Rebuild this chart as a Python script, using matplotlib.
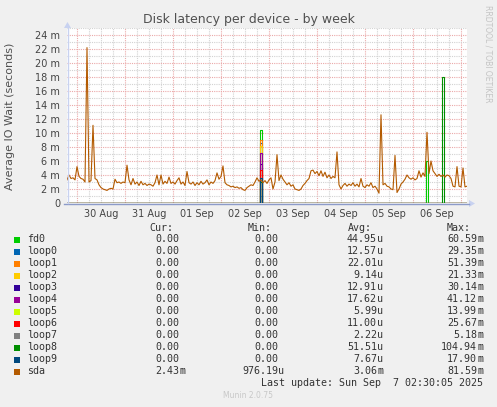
import matplotlib
matplotlib.use("Agg")
import matplotlib.pyplot as plt
from matplotlib.patches import Rectangle, Polygon
import numpy as np
import pandas as pd

W, H = 497, 407

# ---- data (hourly samples) ----
t_start = "2025-08-29 19:00"
t_end = "2025-09-07 03:00"

sda_aug29 = [3.3, 4.0, 3.5, 3.6, 3.3]
sda_aug30 = [5.2, 3.8, 3.5, 3.4, 3.0, 22.2, 3.0, 3.2, 11.1, 3.5, 3.3, 2.6,
             2.2, 2.0, 1.9, 1.8, 2.0, 2.1, 2.0, 3.4, 2.9, 3.0, 2.8, 3.0]
sda_aug31 = [2.9, 5.4, 3.3, 2.6, 3.5, 2.7, 3.0, 2.5, 3.1, 2.6, 2.8, 2.5,
             2.7, 2.6, 2.4, 2.9, 4.0, 2.6, 4.0, 2.7, 3.1, 2.8, 3.7, 2.8]
sda_sep01 = [3.0, 2.7, 3.2, 3.6, 2.7, 3.0, 2.5, 4.5, 2.9, 2.7, 3.0, 2.5,
             2.9, 2.6, 3.1, 2.7, 2.9, 3.3, 2.6, 3.0, 2.8, 3.2, 4.3, 3.4]
sda_sep02 = [3.8, 5.3, 2.9, 2.6, 2.5, 2.3, 2.4, 2.2, 2.3, 2.1, 2.2, 1.9,
             1.8, 2.2, 2.4, 2.6, 2.5, 3.0, 3.6, 3.1, 3.3, 2.9, 3.2, 2.8]
sda_sep03 = [3.3, 3.6, 2.0, 3.0, 6.9, 3.2, 4.0, 3.4, 3.0, 2.6, 2.9, 2.4,
             2.6, 2.0, 1.9, 1.8, 2.0, 2.5, 2.8, 3.2, 3.5, 4.6, 4.7, 4.2]
sda_sep04 = [4.5, 3.9, 4.6, 3.8, 4.4, 3.6, 4.0, 3.5, 3.8, 3.6, 7.3, 2.6,
             2.0, 2.5, 2.8, 2.4, 2.7, 2.5, 2.9, 2.4, 2.7, 2.3, 3.5, 2.4]
sda_sep05 = [2.2, 2.6, 2.4, 2.9, 2.2, 2.4, 2.0, 1.4, 12.6, 2.6, 2.8, 2.4,
             2.3, 2.0, 1.9, 6.8, 1.5, 2.0, 2.7, 3.0, 3.4, 4.0, 3.6, 3.4]
sda_sep06 = [3.6, 3.3, 3.5, 4.6, 3.7, 4.3, 3.8, 10.1, 4.2, 6.0, 4.6, 4.2,
             3.8, 4.1, 3.8, 4.0, 3.7, 4.0, 3.9, 3.5, 2.4, 2.3, 5.2, 2.4]
sda_sep07 = [2.3, 5.0, 2.3, 2.4]

# other devices are 0 except for a few samples (time, ms)
fd0_events = [("2025-09-02 20:00", 10.4), ("2025-09-06 07:00", 6.0)]
loop0_events = [("2025-09-02 20:00", 8.5)]
loop1_events = [("2025-09-02 20:00", 9.0)]
loop2_events = [("2025-09-02 20:00", 8.2)]
loop3_events = [("2025-09-02 20:00", 5.5)]
loop4_events = [("2025-09-02 20:00", 7.1)]
loop5_events = [("2025-09-02 20:00", 3.0)]
loop6_events = [("2025-09-02 20:00", 4.7)]
loop7_events = [("2025-09-02 20:00", 1.0)]
loop8_events = [("2025-09-02 20:00", 3.0), ("2025-09-06 15:00", 18.0)]
loop9_events = [("2025-09-02 20:00", 3.6)]

devices = ["fd0", "loop0", "loop1", "loop2", "loop3", "loop4", "loop5",
           "loop6", "loop7", "loop8", "loop9", "sda"]
colors = ["#00CC00", "#0066B3", "#FF8000", "#FFCC00", "#330099", "#990099",
          "#CCFF00", "#FF0000", "#808080", "#008F00", "#00487D", "#B35A00"]
cur_vals = ["0.00", "0.00", "0.00", "0.00", "0.00", "0.00", "0.00", "0.00",
            "0.00", "0.00", "0.00", "2.43m"]
min_vals = ["0.00"] * 11 + ["976.19u"]
avg_vals = ["44.95u", "12.57u", "22.01u", "9.14u", "12.91u", "17.62u",
            "5.99u", "11.00u", "2.22u", "51.51u", "7.67u", "3.06m"]
max_vals = ["60.59m", "29.35m", "51.39m", "21.33m", "30.14m", "41.12m",
            "13.99m", "25.67m", "5.18m", "104.94m", "17.90m", "81.59m"]

y_ticks = [0, 2, 4, 6, 8, 10, 12, 14, 16, 18, 20, 22, 24]
y_ticklabels = ["0", "2 m", "4 m", "6 m", "8 m", "10 m", "12 m", "14 m",
                "16 m", "18 m", "20 m", "22 m", "24 m"]
day_labels = ["30 Aug", "31 Aug", "01 Sep", "02 Sep", "03 Sep", "04 Sep",
              "05 Sep", "06 Sep"]

# ---- build series ----
times = pd.date_range(t_start, t_end, freq="h")
sda = np.array(sda_aug29 + sda_aug30 + sda_aug31 + sda_sep01 + sda_sep02
               + sda_sep03 + sda_sep04 + sda_sep05 + sda_sep06 + sda_sep07)

all_events = [fd0_events, loop0_events, loop1_events, loop2_events,
              loop3_events, loop4_events, loop5_events, loop6_events,
              loop7_events, loop8_events, loop9_events]
series = []
for ev in all_events:
    s = pd.Series(0.0, index=times)
    for t, v in ev:
        s[pd.Timestamp(t)] = v
    series.append(s)

# ---- figure ----
fig = plt.figure(figsize=(W / 100, H / 100), dpi=100)
fig.patch.set_facecolor("#F0F0F0")

ax = fig.add_axes([67 / W, (H - 203) / H, 400 / W, 175 / H])
ax.set_facecolor("white")
for sp in ax.spines.values():
    sp.set_visible(False)

t0, t1 = pd.Timestamp(t_start), pd.Timestamp(t_end)
ax.set_xlim(t0, t1)
ax.set_ylim(0, 25)

# grid: red dotted at midnight / every 2m, grey dotted otherwise
major_c = "#EBA9A9"
minor_c = "#D2D2D2"
for t in pd.date_range("2025-08-30 00:00", t_end, freq="6h"):
    c = major_c if t.hour == 0 else minor_c
    ax.axvline(t, color=c, lw=0.8, ls=(0, (1, 1)), zorder=0)
for v in range(1, 26):
    c = major_c if v % 2 == 0 else minor_c
    ax.axhline(v, color=c, lw=0.8, ls=(0, (1, 1)), zorder=0)

for s, c in zip(series, colors[:-1]):
    ax.plot(s.index, s.values, color=c, lw=0.8, drawstyle="steps-mid")
ax.plot(times, sda, color=colors[-1], lw=0.8)

noons = pd.date_range("2025-08-30 12:00", periods=len(day_labels), freq="D")
ax.set_xticks(noons)
ax.set_xticklabels(day_labels)
ax.set_yticks(y_ticks)
ax.set_yticklabels(y_ticklabels)
ax.tick_params(length=0, labelsize=7, colors="#444444")
ax.tick_params(axis="x", pad=4)
ax.tick_params(axis="y", pad=5)

# ---- overlay in pixel coordinates ----
ov = fig.add_axes([0, 0, 1, 1])
ov.set_xlim(0, W)
ov.set_ylim(H, 0)
ov.axis("off")
ov.patch.set_visible(False)

ov.plot([64, 469], [203.5, 203.5], color="#8C9BC9", lw=1.0)
ov.plot([67.5, 67.5], [203, 27], color="#C8D2F0", lw=1.0)
ov.add_patch(Polygon([[469, 200], [469, 207], [475, 203.5]], closed=True,
                     color="#C8D2F0", lw=0))
ov.add_patch(Polygon([[64, 28], [71, 28], [67.5, 22]], closed=True,
                     color="#C8D2F0", lw=0))

ov.text(248.5, 20, "Disk latency per device - by week", fontsize=9,
        color="#505050", ha="center", va="center")
ov.text(10, 116, "Average IO Wait (seconds)", fontsize=8, color="#505050",
        rotation=90, ha="center", va="center")
ov.text(488, 5, "RRDTOOL / TOBI OETIKER", fontsize=5.5, color="#C4C4C4",
        rotation=270, ha="center", va="top")

# ---- legend table ----
mono = dict(family="DejaVu Sans Mono", fontsize=7.2, color="#333333",
            va="center")
row_y0 = 239.5
row_h = 12
ov.text(149, 228, "Cur:", ha="left", **mono)
ov.text(248, 228, "Min:", ha="left", **mono)
ov.text(348, 228, "Avg:", ha="left", **mono)
ov.text(447, 228, "Max:", ha="left", **mono)


def put_num(x_end, y, s):
    if s[-1] in "mu":
        ov.text(x_end, y, s[:-1], ha="right", **mono)
        ov.text(x_end, y, s[-1], ha="left", **mono)
    else:
        ov.text(x_end, y, s, ha="right", **mono)


for i, name in enumerate(devices):
    y = row_y0 + i * row_h
    ov.add_patch(Rectangle((14, y - 3), 6, 6, color=colors[i], lw=0))
    ov.text(27, y, name, ha="left", **mono)
    put_num(179, y, cur_vals[i])
    put_num(278, y, min_vals[i])
    put_num(377, y, avg_vals[i])
    put_num(477, y, max_vals[i])

ov.text(483, row_y0 + 12 * row_h, "Last update: Sun Sep  7 02:30:05 2025",
        ha="right", **mono)
ov.text(248, 396, "Munin 2.0.75", fontsize=5.5, color="#C8C8C8",
        ha="center", va="center")

fig.savefig("out.png", dpi=100, facecolor=fig.get_facecolor())
